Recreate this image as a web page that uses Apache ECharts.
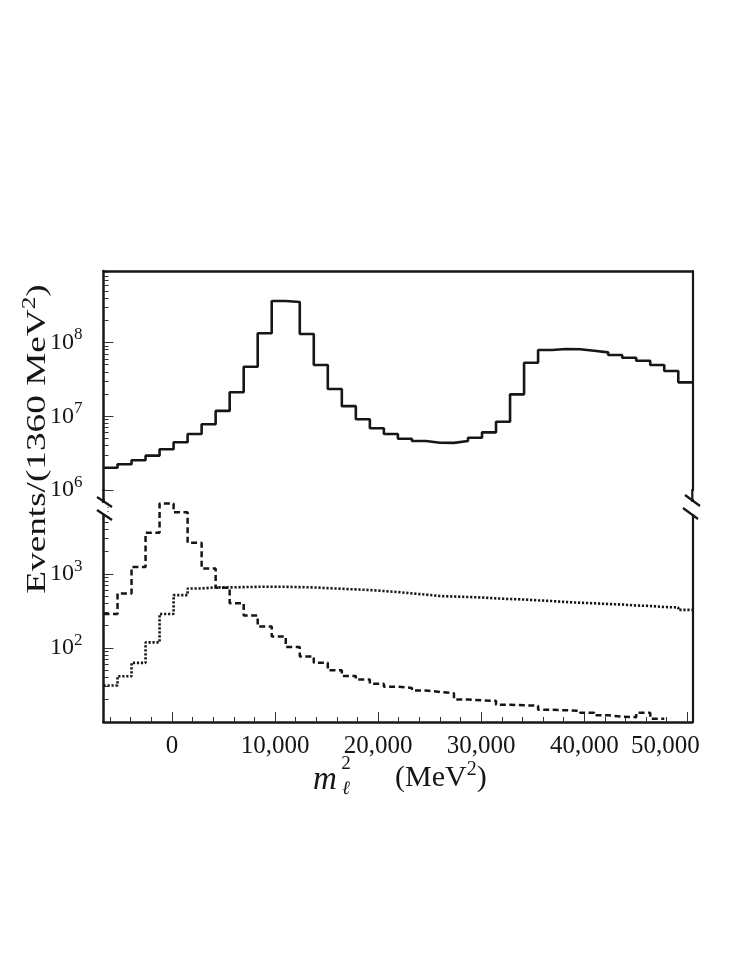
<!DOCTYPE html>
<html><head><meta charset="utf-8">
<script src="https://cdn.jsdelivr.net/npm/echarts@6/dist/echarts.min.js"></script>
<style>html,body{margin:0;padding:0;background:#fff;}#c{width:747px;height:967px;}</style>
</head><body><div id="c"></div>
<script>
// ---- data ----
const binStart = -6640;
const binWidth = 1360;
const xMin = -6640, xMax = 50480;
const xTickLabels = [0, 10000, 20000, 30000, 40000, 50000];
const xMinorTicks = [-6000,-4000,-2000,2000,4000,6000,8000,12000,14000,16000,18000,22000,24000,26000,28000,32000,34000,36000,38000,42000,44000,46000,48000];
const upperMajor = [1e6, 1e7, 1e8];
const upperMinor = [2e6,3e6,4e6,5e6,6e6,7e6,8e6,9e6,2e7,3e7,4e7,5e7,6e7,7e7,8e7,9e7,2e8,3e8,4e8,5e8,6e8,7e8,8e8,9e8];
const lowerMajor = [1e2, 1e3];
const lowerMinor = [20,30,40,50,60,70,80,90,200,300,400,500,600,700,800,900,2000,3000,4000,5000,6000,7000,8000,9000];
const solidCounts = [2.00e6,2.23e6,2.53e6,2.92e6,3.56e6,4.43e6,5.74e6,7.77e6,1.18e7,2.11e7,4.69e7,1.33e8,3.64e8,3.53e8,1.30e8,4.94e7,2.34e7,1.37e7,9.08e6,6.86e6,5.74e6,4.96e6,4.61e6,4.38e6,4.35e6,4.61e6,5.11e6,6.05e6,8.42e6,1.98e7,5.31e7,7.89e7,8.14e7,8.07e7,7.72e7,7.34e7,6.75e7,6.21e7,5.65e7,4.94e7,4.10e7,2.88e7];
const dashedCounts = [288,547,1245,3600,9000,6820,2650,1186,650,402,274,195,143,103,77,63,50,42,37.5,33,30,28.9,26.7,25.5,24.4,20.2,19.6,19.3,17.1,16.8,16.6,14.6,14.4,14.2,13.3,12.3,11.8,11.6,13.3,11.1];
const dottedCounts = [31.2,41.6,63,119,288,519,638,659,659,665,671,671,671,665,659,644,631,619,607,588,570,547,527,504,496,489,481,469,459,452,441,431,418,409,402,393,387,375,370,358,353,327];

// ---- build ----
function stepData(counts) {
  const pts = counts.map((c, i) => [binStart + i * binWidth, c]);
  pts.push([binStart + counts.length * binWidth, counts[counts.length - 1]]);
  return pts;
}
const FONT = '"Liberation Serif", "DejaVu Serif", serif';
const INK = '#161616';
const L = 103.5, R = 692.3;
const upTop = 271, upBot = 490, loTop = 500, loBot = 722;

const powLabel = v => '{b|10}{s|' + Math.round(Math.log10(v)) + '}';
const powRich = {
  b: { fontFamily: FONT, fontSize: 24, color: INK, lineHeight: 32 },
  s: { fontFamily: FONT, fontSize: 17, color: INK, verticalAlign: 'top', lineHeight: 32 }
};
function yMajor(grid, min, max, major) {
  return { type: 'log', logBase: 10, gridIndex: grid, position: 'left', min: min, max: max,
    axisLine: { show: true, onZero: false, lineStyle: { color: INK, width: 2.5 } },
    axisTick: { show: true, inside: true, length: 10, customValues: major, lineStyle: { color: '#333', width: 1 } },
    axisLabel: { show: true, customValues: major, formatter: powLabel, rich: powRich, margin: 21 },
    splitLine: { show: false }, minorTick: { show: false } };
}
function yMinor(grid, min, max, minor) {
  return { type: 'log', logBase: 10, gridIndex: grid, position: 'left', min: min, max: max,
    axisLine: { show: false, onZero: false },
    axisTick: { show: true, inside: true, length: 5, customValues: minor, lineStyle: { color: '#333', width: 1 } },
    axisLabel: { show: false }, splitLine: { show: false } };
}
function yRight(grid) {
  return { type: 'value', gridIndex: grid, position: 'right', min: 0, max: 1,
    axisLine: { show: true, onZero: false, lineStyle: { color: INK, width: 2.2 } },
    axisTick: { show: false }, axisLabel: { show: false }, splitLine: { show: false } };
}
const upMax = 9.3e8;
const xLabelFmt = v => {
  const s = Number(v).toLocaleString('en-US');
  return v === xTickLabels[xTickLabels.length - 1] ? '{last|' + s + '}' : s;
};

const option = {
  animation: false,
  backgroundColor: '#ffffff',
  grid: [
    { left: L, width: R - L, top: upTop, height: upBot - upTop },
    { left: L, width: R - L, top: loTop, height: loBot - loTop }
  ],
  xAxis: [
    { type: 'value', gridIndex: 0, position: 'top', min: xMin, max: xMax,
      axisLine: { show: true, onZero: false, lineStyle: { color: INK, width: 2.5 } },
      axisTick: { show: false }, axisLabel: { show: false }, splitLine: { show: false } },
    { type: 'value', gridIndex: 1, position: 'bottom', min: xMin, max: xMax,
      axisLine: { show: true, onZero: false, lineStyle: { color: INK, width: 2.5 } },
      axisTick: { show: true, inside: true, length: 10, customValues: xTickLabels, lineStyle: { color: '#333', width: 1 } },
      axisLabel: { show: true, customValues: xTickLabels, margin: 12, fontFamily: FONT, fontSize: 25, color: INK,
        formatter: xLabelFmt,
        rich: { last: { fontFamily: FONT, fontSize: 25, color: INK, padding: [0, 44, 0, 0] } } },
      splitLine: { show: false } },
    { type: 'value', gridIndex: 1, position: 'bottom', min: xMin, max: xMax,
      axisLine: { show: false, onZero: false },
      axisTick: { show: true, inside: true, length: 5, customValues: xMinorTicks, lineStyle: { color: '#333', width: 1 } },
      axisLabel: { show: false }, splitLine: { show: false } }
  ],
  yAxis: [
    yMajor(0, 1e6, upMax, upperMajor),
    yMinor(0, 1e6, upMax, upperMinor),
    yRight(0),
    yMajor(1, 10, 1e4, lowerMajor),
    yMinor(1, 10, 1e4, lowerMinor),
    yRight(1)
  ],
  series: [
    { type: 'line', name: 'solid', xAxisIndex: 0, yAxisIndex: 0, step: 'end', symbol: 'none',
      data: stepData(solidCounts), lineStyle: { color: INK, width: 2.6, type: 'solid' }, clip: true, z: 3 },
    { type: 'line', name: 'dashed', xAxisIndex: 1, yAxisIndex: 3, step: 'end', symbol: 'none',
      data: stepData(dashedCounts), lineStyle: { color: INK, width: 2.5, type: [6, 3.5] }, clip: false, z: 3 },
    { type: 'line', name: 'dotted', xAxisIndex: 1, yAxisIndex: 3, step: 'end', symbol: 'none',
      data: stepData(dottedCounts), lineStyle: { color: INK, width: 2.6, type: [2.2, 1.8] }, clip: true, z: 3 }
  ],
  graphic: [
    { type: 'line', shape: { x1: L, y1: upBot - 1, x2: L, y2: 503 }, style: { stroke: INK, lineWidth: 2.5 }, z: 50 },
    { type: 'line', shape: { x1: R, y1: upBot - 1, x2: R, y2: 502 }, style: { stroke: INK, lineWidth: 2.2 }, z: 50 },
    { type: 'rect', shape: { x: L - 4, y: 503, width: 8, height: 12 }, style: { fill: '#fff' }, z: 50 },
    { type: 'rect', shape: { x: R - 4, y: 502, width: 8, height: 12 }, style: { fill: '#fff' }, z: 50 },
    { type: 'line', shape: { x1: 97, y1: 497, x2: 112, y2: 507 }, style: { stroke: INK, lineWidth: 2.2 }, z: 51 },
    { type: 'line', shape: { x1: 97, y1: 510, x2: 112, y2: 520 }, style: { stroke: INK, lineWidth: 2.2 }, z: 51 },
    { type: 'line', shape: { x1: 685, y1: 495, x2: 700, y2: 506 }, style: { stroke: INK, lineWidth: 2.2 }, z: 51 },
    { type: 'line', shape: { x1: 683, y1: 508, x2: 698, y2: 519 }, style: { stroke: INK, lineWidth: 2.2 }, z: 51 },
    { type: 'text', x: 38, y: 439, rotation: Math.PI / 2, scaleX: 1.33, scaleY: 1, z: 60,
      style: { text: 'Events/(1360 MeV{s|2})', fontFamily: FONT, fontSize: 28, fill: INK,
        align: 'center', verticalAlign: 'middle',
        rich: { s: { fontFamily: FONT, fontSize: 19, fill: INK, verticalAlign: 'top', lineHeight: 34 } } } },
    { type: 'text', x: 325, y: 780, z: 60,
      style: { text: 'm', fontFamily: FONT, fontStyle: 'italic', fontSize: 33, fill: INK, align: 'center', verticalAlign: 'middle' } },
    { type: 'text', x: 346, y: 764, z: 60,
      style: { text: '2', fontFamily: FONT, fontSize: 19, fill: INK, align: 'center', verticalAlign: 'middle' } },
    { type: 'text', x: 346, y: 789, z: 60,
      style: { text: 'ℓ', fontFamily: FONT, fontStyle: 'italic', fontSize: 19, fill: INK, align: 'center', verticalAlign: 'middle' } },
    { type: 'text', x: 395, y: 778, z: 60,
      style: { text: '(MeV{s|2})', fontFamily: FONT, fontSize: 30, fill: INK, align: 'left', verticalAlign: 'middle',
        rich: { s: { fontFamily: FONT, fontSize: 20, fill: INK, verticalAlign: 'top', lineHeight: 36 } } } }
  ]
};
const chart = echarts.init(document.getElementById('c'), null, { renderer: 'canvas' });
chart.setOption(option);
</script></body></html>
